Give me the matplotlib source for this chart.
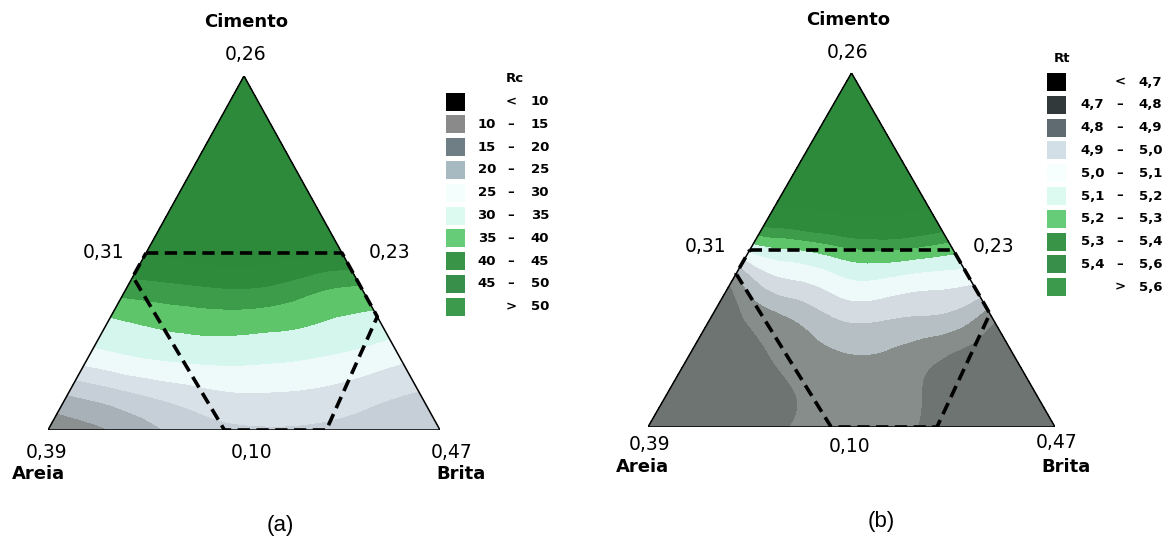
import numpy as np
import matplotlib.pyplot as plt
import matplotlib.tri as mtri
from matplotlib.patches import Rectangle

# ---------------- dados ----------------
# valores lidos da figura numa grade ternaria (passo 0,1):
# linha i -> Cimento = 0,1*i ; coluna j -> Brita = 0,1*j ; Areia = resto
rc_rows = [
    [6.0, 8.5, 11.5, 15.2, 18.0, 19.3, 19.5, 19.0, 18.0, 17.0, 16.0],
    [15.0, 17.5, 20.3, 22.5, 24.3, 24.6, 24.2, 23.0, 21.0, 19.5],
    [27.0, 29.0, 30.3, 31.0, 31.0, 30.5, 29.5, 28.0, 25.8],
    [33.8, 35.3, 36.5, 37.0, 36.5, 35.5, 34.0, 32.7],
    [42.4, 43.5, 44.5, 45.0, 43.5, 40.5, 39.2],
    [50.0, 51.5, 52.5, 52.0, 51.0, 50.0],
    [55.0, 57.0, 57.0, 56.0, 55.0],
    [60.0, 61.0, 61.0, 60.0],
    [65.0, 65.5, 65.0],
    [70.0, 70.0],
    [75.0],
]
rt_rows = [
    [4.60, 4.62, 4.65, 4.68, 4.72, 4.74, 4.73, 4.68, 4.64, 4.62, 4.60],
    [4.60, 4.62, 4.65, 4.695, 4.74, 4.76, 4.715, 4.66, 4.63, 4.61],
    [4.61, 4.64, 4.70, 4.76, 4.795, 4.78, 4.72, 4.66, 4.63],
    [4.64, 4.71, 4.79, 4.88, 4.905, 4.88, 4.85, 4.705],
    [4.69, 4.93, 4.99, 5.07, 5.05, 5.02, 4.99],
    [5.12, 5.19, 5.25, 5.30, 5.28, 5.23],
    [5.52, 5.56, 5.60, 5.60, 5.55],
    [5.70, 5.74, 5.76, 5.72],
    [5.85, 5.88, 5.85],
    [6.00, 6.00],
    [6.20],
]

rc_levels = [-100, 10, 15, 20, 25, 30, 35, 40, 45, 50, 500]
rt_levels = [-100, 4.7, 4.8, 4.9, 5.0, 5.1, 5.2, 5.3, 5.4, 5.6, 100]

# cores das faixas dentro do triangulo
rc_fill = ["#8a9090", "#a9b1b8", "#c6cfd8", "#d8e0e8", "#eef9f9",
           "#d4f6ec", "#5ec56b", "#3c9c49", "#2f8b3c", "#2e8a3b"]
rt_fill = ["#6e7472", "#878d8b", "#b6bfc4", "#d4dce1", "#eefafa",
           "#d6f5ee", "#5ec56b", "#3c9c49", "#2f8b3c", "#2e8a3b"]

# legenda
rc_swatch = ["#000000", "#8a8a8a", "#6f7d84", "#a7bac2", "#f4fefc",
             "#dcfaf0", "#66cc78", "#3a9448", "#378f49", "#3b9a4c"]
rt_swatch = ["#000000", "#32393b", "#5f6b71", "#d3dfe6", "#f6fffd",
             "#dcfaf0", "#66cc78", "#3a9448", "#378f49", "#3b9a4c"]
rc_lo = ["", "10", "15", "20", "25", "30", "35", "40", "45", ""]
rc_hi = ["10", "15", "20", "25", "30", "35", "40", "45", "50", "50"]
rt_lo = ["", "4,7", "4,8", "4,9", "5,0", "5,1", "5,2", "5,3", "5,4", ""]
rt_hi = ["4,7", "4,8", "4,9", "5,0", "5,1", "5,2", "5,3", "5,4", "5,6", "5,6"]
sep = ["<", "–", "–", "–", "–", "–", "–", "–", "–", ">"]

# regiao experimental (pseudo-componentes), coordenadas baricentricas
hex_a = [0.50, 0.00, 0.00, 0.29, 0.55, 0.567]
hex_b = [0.00, 0.50, 0.68, 0.71, 0.45, 0.00]
hex_c = [0.50, 0.50, 0.32, 0.00, 0.00, 0.433]

vertex_labels = ["0,26", "0,31", "0,23", "0,39", "0,10", "0,47"]

STEP = 0.1


def to_xy(b, c):
    b = np.asarray(b, dtype=float)
    c = np.asarray(c, dtype=float)
    return b + c / 2.0, c


def draw_ternary(ax, rows, levels, colors):
    bs, cs, vs = [], [], []
    for i, row in enumerate(rows):
        for j, v in enumerate(row):
            bs.append(j * STEP)
            cs.append(i * STEP)
            vs.append(v)
    x, y = to_xy(bs, cs)
    tri = mtri.Triangulation(x, y)
    z = np.array(vs)
    interp = mtri.CubicTriInterpolator(tri, z, kind="min_E")
    refiner = mtri.UniformTriRefiner(tri)
    tri_f, z_f = refiner.refine_field(z, triinterpolator=interp, subdiv=4)
    ax.tricontourf(tri_f, z_f, levels=levels, colors=colors)
    ax.plot([0, 1, 0.5, 0], [0, 0, 1, 0], color="black", lw=1.1)
    hx, hy = to_xy(hex_b + hex_b[:1], hex_c + hex_c[:1])
    ax.plot(hx, hy, color="black", lw=2.6, ls=(0, (3.4, 1.8)))
    ax.set_xlim(0, 1)
    ax.set_ylim(0, 1)
    ax.axis("off")


fig = plt.figure(figsize=(11.76, 5.46), dpi=100)
W, H = 1176.0, 546.0

ax1 = fig.add_axes([48 / W, (H - 430) / H, 392 / W, 354 / H])
draw_ternary(ax1, rc_rows, rc_levels, rc_fill)
ax2 = fig.add_axes([648 / W, (H - 427) / H, 407 / W, 354 / H])
draw_ternary(ax2, rt_rows, rt_levels, rt_fill)

# camada de textos em pixels
ov = fig.add_axes([0, 0, 1, 1])
ov.set_xlim(0, W)
ov.set_ylim(H, 0)
ov.axis("off")

num_kw = dict(fontsize=13.5, ha="center", va="center", family="DejaVu Sans")
bold_kw = dict(fontsize=13, ha="center", va="center", fontweight="heavy",
               family="DejaVu Sans")

# (a)
ov.text(246, 22, "Cimento", **bold_kw)
ov.text(246, 55, vertex_labels[0], **num_kw)
ov.text(104, 253, vertex_labels[1], **num_kw)
ov.text(390, 253, vertex_labels[2], **num_kw)
ov.text(47, 452, vertex_labels[3], **num_kw)
ov.text(252, 452, vertex_labels[4], **num_kw)
ov.text(452, 452, vertex_labels[5], **num_kw)
ov.text(38, 474, "Areia", **bold_kw)
ov.text(461, 474, "Brita", **bold_kw)
ov.text(280, 526, "(a)", fontsize=16, ha="center", va="center",
        family="Liberation Sans")

# (b)
ov.text(848, 20, "Cimento", **bold_kw)
ov.text(848, 52, vertex_labels[0], **num_kw)
ov.text(706, 247, vertex_labels[1], **num_kw)
ov.text(994, 247, vertex_labels[2], **num_kw)
ov.text(650, 445, vertex_labels[3], **num_kw)
ov.text(850, 447, vertex_labels[4], **num_kw)
ov.text(1057, 443, vertex_labels[5], **num_kw)
ov.text(642, 467, "Areia", **bold_kw)
ov.text(1066, 467, "Brita", **bold_kw)
ov.text(881, 522, "(b)", fontsize=16, ha="center", va="center",
        family="Liberation Sans")


def draw_legend(title, tx, ty, x0, y0, swatch, lo, hi, x_lo, x_sep, x_hi):
    leg_kw = dict(fontsize=9.5, va="center", fontweight="bold",
                  family="DejaVu Sans")
    ov.text(tx, ty, title, ha="center", **leg_kw)
    for i, col in enumerate(swatch):
        y = y0 + i * 22.8
        ov.add_patch(Rectangle((x0, y - 9), 19, 18, fc=col, ec="none"))
        if lo[i]:
            ov.text(x_lo, y, lo[i], ha="right", **leg_kw)
        ov.text(x_sep, y, sep[i], ha="center", **leg_kw)
        ov.text(x_hi, y, hi[i], ha="right", **leg_kw)


draw_legend("Rc", 515, 78, 446, 101.5, rc_swatch, rc_lo, rc_hi, 496, 511, 549)
draw_legend("Rt", 1062, 58, 1047, 82, rt_swatch, rt_lo, rt_hi, 1104, 1120, 1162)

fig.savefig("out.png", dpi=100)
